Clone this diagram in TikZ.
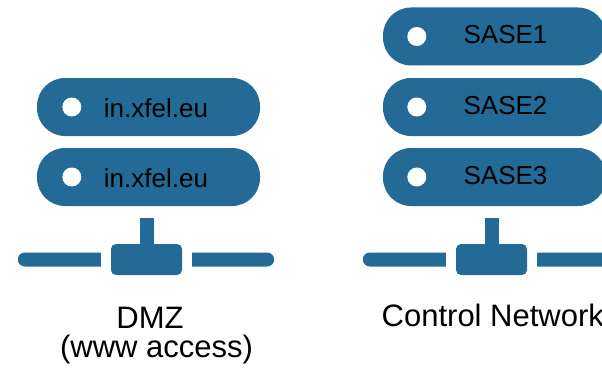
\documentclass[tikz,border=0pt]{standalone}
\usepackage{fontspec}
\setmainfont{Liberation Sans}
\usetikzlibrary{positioning}
\definecolor{netblue}{HTML}{236A96}
\tikzset{
  server/.style={fill=netblue, rounded corners=28pt, minimum width=223pt, minimum height=58pt, inner sep=0pt},
  srvtext/.style={font=\fontsize{26}{30}\selectfont, inner sep=0pt, anchor=base},
  hub/.style={fill=netblue, rounded corners=5pt, minimum width=71pt, minimum height=31pt, inner sep=0pt},
  caption/.style={font=\fontsize{31}{36}\selectfont, inner sep=0pt, anchor=base},
}
\begin{document}
\begin{tikzpicture}[x=1pt,y=-1pt]
        \useasboundingbox (0,0) rectangle (602,369);
        \clip (0,0) rectangle (602,369);
        % DMZ
        \node[server] (dmzA) at (148.5,107) {};
        \node[server] (dmzB) at (148.5,177) {};
        \foreach \s in {dmzA,dmzB} {
            \fill[white] ([xshift=35pt]\s.west) circle (9.5pt);
            \node[srvtext] (\s-text) at ([xshift=7.5pt,yshift=-10.5pt]\s.center) {in.xfel.eu};
        }
        \node[hub] (dmzHub) at (146.5,259.5) {};
        \fill[netblue] ([xshift=-7pt]dmzHub.north) rectangle ++(14,-26);
        \fill[netblue] ([xshift=-10pt,yshift=7pt]dmzHub.west) -- ++(-76,0) arc[start angle=90, end angle=270, radius=7pt] -- ++(76,0) -- cycle;
        \fill[netblue] ([xshift=10pt,yshift=7pt]dmzHub.east) -- ++(75,0) arc[start angle=90, end angle=-90, radius=7pt] -- ++(-75,0) -- cycle;
        \node[caption] (dmzLabel) at (150,328) {DMZ};
        \node[caption] (dmzNote) at (156.5,357) {(www access)};
        % control network
        \foreach \i/\y in {1/36.5,2/107,3/177} {
            \node[server] (sase\i) at (494.5,\y) {};
            \fill[white] ([xshift=34pt]sase\i.west) circle (9.5pt);
            \node[srvtext] (sase\i-text) at ([xshift=11pt,yshift=-7pt]sase\i.center) {SASE\i};
        }
        \node[hub] (ctrlHub) at (491.5,259.5) {};
        \fill[netblue] ([xshift=-7pt]ctrlHub.north) rectangle ++(14,-26);
        \fill[netblue] ([xshift=-10pt,yshift=7pt]ctrlHub.west) -- ++(-76,0) arc[start angle=90, end angle=270, radius=7pt] -- ++(76,0) -- cycle;
        \fill[netblue] ([xshift=10pt,yshift=7pt]ctrlHub.east) -- ++(75,0) arc[start angle=90, end angle=-90, radius=7pt] -- ++(-75,0) -- cycle;
        \node[caption, anchor=base west] (ctrlLabel) at (381.5,326) {Control Network};
\end{tikzpicture}
\end{document}
